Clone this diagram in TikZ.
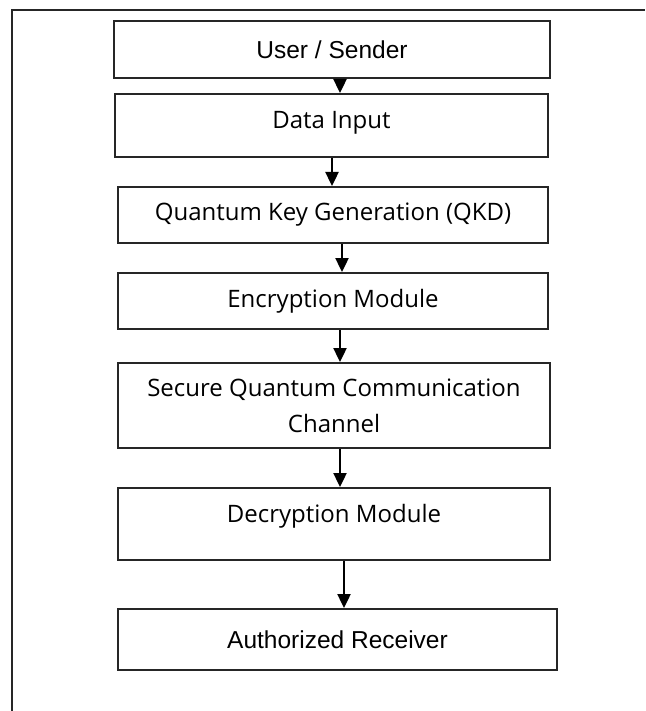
\documentclass[tikz,border=0pt]{standalone}
\usepackage{fontspec}
\setmainfont{Open Sans}
\newfontfamily\arialfont{Liberation Sans}
\usetikzlibrary{arrows.meta, positioning}

\tikzset{
    stage/.style={draw=black!85, line width=2pt, rectangle, align=center, inner sep=0pt,
        font=\fontsize{24}{36}\selectfont},
    plain stage/.style={stage, font=\arialfont\fontsize{24.5}{30}\selectfont},
    flow/.style={line width=2.4pt, -{Triangle[width=13pt,length=14pt]}},
    frame/.style={line width=2pt, black!85}
}

\begin{document}
\begin{tikzpicture}[x=1pt, y=-1pt]
    \useasboundingbox (0,0) rectangle (645,711);

    % outer frame (open at the bottom and right)
    \draw[frame] (12,711) -- (12,10) -- (645,10);

    \node[plain stage, minimum width=436pt, minimum height=57pt] (user) at (332,49.5) {User / Sender};
    \node[stage, minimum width=433pt, minimum height=63pt, text depth=11pt] (data) at (331.5,125.5) {Data Input};
    \node[stage, minimum width=430pt, minimum height=56pt] (qkd) at (333,215) {Quantum Key Generation (QKD)};
    \node[stage, minimum width=430pt, minimum height=56pt] (enc) at (333,301) {Encryption Module};
    \node[stage, minimum width=432pt, minimum height=85pt] (chan) at (334,405.5) {Secure Quantum Communication\\Channel};
    \node[stage, minimum width=432pt, minimum height=72pt, text depth=21pt] (dec) at (334,524) {Decryption Module};
    \node[plain stage, minimum width=439pt, minimum height=61pt] (recv) at (337.5,639.5) {Authorized Receiver};

    \coordinate (spine) at (340,0);
    \draw[flow] (user.south -| spine) -- (data.north -| spine);
    \draw[flow] ([xshift=-8pt]data.south -| spine) -- ([xshift=-8pt]qkd.north -| spine);
    \draw[flow] ([xshift=2pt]qkd.south -| spine) -- ([xshift=2pt]enc.north -| spine);
    \draw[flow] (enc.south -| spine) -- (chan.north -| spine);
    \draw[flow] (chan.south -| spine) -- (dec.north -| spine);
    \draw[flow] ([xshift=4pt]dec.south -| spine) -- ([xshift=4pt]recv.north -| spine);
\end{tikzpicture}
\end{document}
